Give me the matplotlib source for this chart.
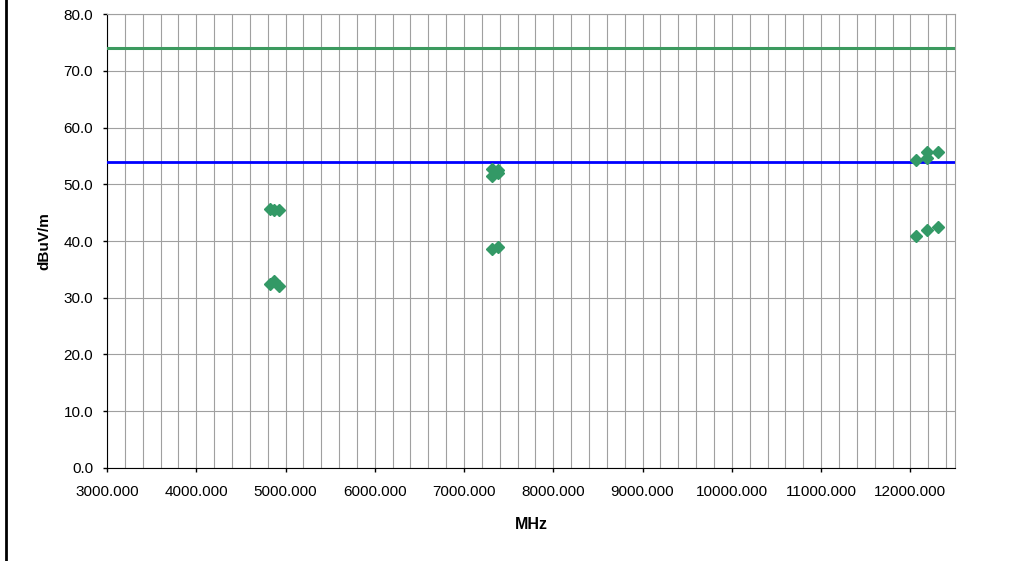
import matplotlib
matplotlib.use("Agg")
import matplotlib.pyplot as plt
from matplotlib.ticker import MultipleLocator, FormatStrFormatter
from matplotlib.lines import Line2D

plt.rcParams['font.family'] = ['Liberation Sans', 'DejaVu Sans']

# measured emissions (MHz, dBuV/m)
freq_peak = [4824, 4874, 4924, 7311, 7311, 7386, 7386, 12060, 12185, 12185, 12310]
level_peak = [45.7, 45.5, 45.4, 52.7, 51.5, 52.6, 52.0, 54.3, 55.6, 54.7, 55.6]
freq_avg = [4824, 4874, 4924, 7311, 7386, 12060, 12185, 12310]
level_avg = [32.5, 33.0, 32.1, 38.6, 38.9, 40.9, 41.9, 42.4]

peak_limit = 74.0
avg_limit = 54.0

dot_color = "#339966"

fig = plt.figure(figsize=(10.14, 5.61), dpi=100)
ax = fig.add_axes([0.1055, 0.1658, 0.8363, 0.8092])

ax.plot(freq_peak, level_peak, linestyle="none", marker="D", ms=6.5,
        color=dot_color, zorder=4)
ax.plot(freq_avg, level_avg, linestyle="none", marker="D", ms=6.5,
        color=dot_color, zorder=4)
ax.axhline(peak_limit, color="#3c9a5f", lw=2.2, zorder=3)
ax.axhline(avg_limit, color="#0000ff", lw=2.0, zorder=3)

ax.set_xlim(3000, 12500)
ax.set_ylim(0, 80)
ax.xaxis.set_major_locator(MultipleLocator(1000))
ax.xaxis.set_minor_locator(MultipleLocator(200))
ax.yaxis.set_major_locator(MultipleLocator(10))
ax.xaxis.set_major_formatter(FormatStrFormatter("%.3f"))
ax.yaxis.set_major_formatter(FormatStrFormatter("%.1f"))

ax.grid(which="major", color="#a0a0a0", lw=0.8)
ax.grid(which="minor", axis="x", color="#a0a0a0", lw=0.8)
ax.set_axisbelow(True)

ax.tick_params(which="major", direction="out", length=3, width=1,
               labelsize=11, colors="black")
ax.tick_params(axis="x", which="minor", length=0)
ax.tick_params(axis="x", pad=9)
ax.tick_params(axis="y", pad=7)

for side in ("top", "right"):
    ax.spines[side].set_color("#a0a0a0")
for side in ("left", "bottom"):
    ax.spines[side].set_color("black")

ax.set_xlabel("MHz", fontsize=11.5, fontweight="bold", labelpad=13)
ax.set_ylabel("dBuV/m", fontsize=11, fontweight="bold", labelpad=9)

# left border of the chart area
fig.add_artist(Line2D([6 / 1014, 6 / 1014], [0, 1], color="black", lw=2,
                      transform=fig.transFigure))

fig.savefig("out.png", dpi=100)
